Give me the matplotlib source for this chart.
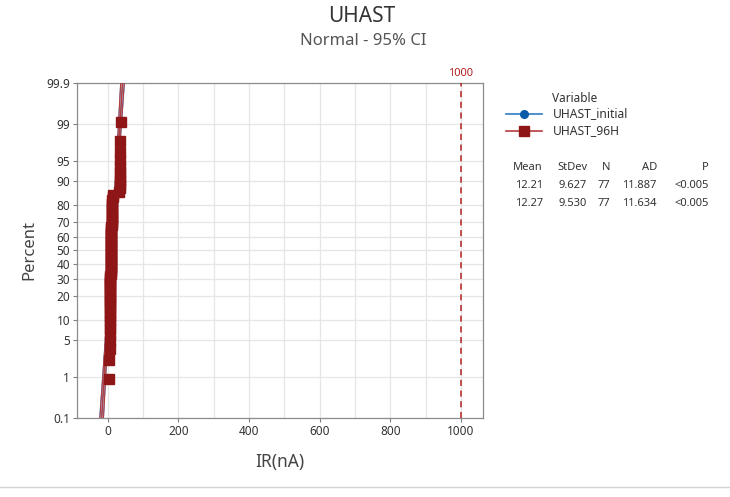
import numpy as np
import matplotlib
matplotlib.use('Agg')
import matplotlib.pyplot as plt
from matplotlib.lines import Line2D
from matplotlib.transforms import blended_transform_factory
from statistics import NormalDist

plt.rcParams['font.family'] = ['Noto Sans', 'DejaVu Sans']

# %%
# 1. DATA
variables = ['UHAST_initial', 'UHAST_96H']

uhast_initial = [
    3.5, 4.0,
    4.9, 5.0, 5.1, 5.1, 5.2, 5.3, 5.3, 5.4, 5.4, 5.5, 5.5, 5.6, 5.6, 5.7, 5.7, 5.8, 5.8, 5.9, 5.9, 6.0, 6.1, 6.2, 6.3,
    8.9, 9.0, 9.0, 9.1, 9.1, 9.2, 9.2, 9.3, 9.3, 9.4, 9.4, 9.5, 9.5, 9.6, 9.6, 9.7, 9.7, 9.8, 9.8, 9.9,
    9.9, 10.0, 10.1, 10.2, 10.3, 10.4, 10.5, 10.6, 10.7, 10.8, 10.9, 11.0, 11.1, 11.3,
    12.3, 12.6, 12.9, 13.1, 13.3, 13.5, 13.7,
    32.8, 33.3, 33.7, 34.0, 34.3, 34.6, 34.9, 35.2, 35.5, 35.8,
    37.0,
]
uhast_96h = [
    3.8, 4.2,
    5.0, 5.1, 5.2, 5.2, 5.3, 5.4, 5.4, 5.5, 5.5, 5.5, 5.6, 5.6, 5.7, 5.7, 5.8, 5.8, 5.9, 5.9, 6.0, 6.0, 6.1, 6.2, 6.3,
    9.0, 9.1, 9.1, 9.2, 9.2, 9.3, 9.3, 9.4, 9.4, 9.5, 9.5, 9.6, 9.6, 9.7, 9.7, 9.8, 9.8, 9.9, 9.9, 10.0,
    10.0, 10.1, 10.2, 10.3, 10.4, 10.5, 10.6, 10.7, 10.8, 10.9, 11.0, 11.1, 11.2, 11.4,
    12.5, 12.8, 13.0, 13.2, 13.4, 13.6, 13.8,
    33.0, 33.5, 33.8, 34.0, 34.2, 34.5, 34.8, 35.0, 35.2, 35.5,
    36.5,
]

# summary table printed by Minitab
means = [12.21, 12.27]
stdevs = [9.627, 9.530]
counts = [77, 77]
ad_values = [11.887, 11.634]
p_values = ['<0.005', '<0.005']

percent_ticks = [0.1, 1, 5, 10, 20, 30, 40, 50, 60, 70, 80, 90, 95, 99, 99.9]
percent_labels = ['0.1', '1', '5', '10', '20', '30', '40', '50', '60', '70', '80', '90', '95', '99', '99.9']
x_ticks = [0, 200, 400, 600, 800, 1000]
ref_value = 1000

line_colors = ['#2f7ec6', '#b83c3c']
marker_colors = ['#0b5aa8', '#8e1616']
markers = ['o', 's']
marker_sizes = [6, 7.5]

# %%
# 2. NORMAL PROBABILITY SCALE
nd = NormalDist()

def zq(p):
    return nd.inv_cdf(p)

fig = plt.figure(figsize=(7.30, 4.97), dpi=100)
ax = fig.add_axes([0.1055, 0.159, 0.556, 0.674])

z_lo, z_hi = zq(0.001), zq(0.999)
z_grid = np.linspace(z_lo, z_hi, 200)

# fitted lines + 95% CI
for k, data in enumerate([uhast_initial, uhast_96h]):
    n = counts[k]
    fit = means[k] + stdevs[k] * z_grid
    se = stdevs[k] * np.sqrt(1.0 / n + z_grid ** 2 / (2.0 * n))
    ax.plot(fit, z_grid, color=line_colors[k], lw=1.0, zorder=3)
    ax.plot(fit - 1.96 * se, z_grid, color=line_colors[k], lw=0.8, zorder=3)
    ax.plot(fit + 1.96 * se, z_grid, color=line_colors[k], lw=0.8, zorder=3)

# data points (median ranks)
for k, data in enumerate([uhast_initial, uhast_96h]):
    vals = np.sort(np.array(data))
    n = len(vals)
    pos = (np.arange(1, n + 1) - 0.3) / (n + 0.4)
    zs = [zq(p) for p in pos]
    ax.plot(vals, zs, ls='none', marker=markers[k], ms=marker_sizes[k],
            color=marker_colors[k], mec=marker_colors[k], zorder=4 + k)

# reference line at 1000
ax.axvline(ref_value, color='#b22222', ls=(0, (4, 3)), lw=1.1, zorder=3)
trans = blended_transform_factory(ax.transData, ax.transAxes)
ax.text(ref_value, 1.012, '1000', transform=trans, ha='center', va='bottom',
        fontsize=8, color='#b22222')

# %%
# 3. AXES STYLE
ax.set_xlim(-87, 1062)
ax.set_ylim(z_lo, z_hi)
ax.set_xticks(x_ticks)
ax.set_xticks([100, 300, 500, 700, 900], minor=True)
ax.set_yticks([zq(p / 100) for p in percent_ticks])
ax.set_yticklabels(percent_labels)

ax.grid(True, which='both', color='#e6e6e6', lw=0.9, zorder=0)
ax.set_axisbelow(True)
ax.tick_params(axis='both', which='major', length=3, width=0.8, color='#808080',
               labelsize=8.5, labelcolor='#333333', pad=2)
ax.tick_params(axis='x', which='minor', length=0)
for sp in ax.spines.values():
    sp.set_color('#8c8c8c')
    sp.set_linewidth(0.9)

ax.set_xlabel('IR(nA)', fontsize=12.5, color='#444444', labelpad=11)
ax.set_ylabel('Percent', fontsize=12, color='#444444', labelpad=6)

# titles
fig.text(0.496, 0.966, 'UHAST', ha='center', va='center', fontsize=15, color='#333333')
fig.text(0.498, 0.918, 'Normal - 95% CI', ha='center', va='center', fontsize=12, color='#555555')

# %%
# 4. LEGEND AND SUMMARY TABLE
fig.text(552 / 730, 1 - 98 / 497, 'Variable', ha='left', va='center', fontsize=8.5, color='#333333')
for k, name in enumerate(variables):
    yy = 1 - (114 + 17 * k) / 497
    fig.add_artist(Line2D([506 / 730, 542 / 730], [yy, yy], color=line_colors[k], lw=1.2))
    fig.add_artist(Line2D([524 / 730], [yy], marker=markers[k], ms=marker_sizes[k] - 0.5,
                          color=marker_colors[k], ls='none'))
    fig.text(553 / 730, yy, name, ha='left', va='center', fontsize=8.7, color='#333333')

col_x = [543, 587, 610, 657, 709]
headers = ['Mean', 'StDev', 'N', 'AD', 'P']
for cx, h in zip(col_x, headers):
    fig.text(cx / 730, 1 - 168 / 497, h, ha='right', va='center', fontsize=8, color='#333333')
for k in range(len(variables)):
    yy = 1 - (185 + 18 * k) / 497
    row = [f'{means[k]:.2f}', f'{stdevs[k]:.3f}', str(counts[k]), f'{ad_values[k]:.3f}', p_values[k]]
    for cx, t in zip(col_x, row):
        fig.text(cx / 730, yy, t, ha='right', va='center', fontsize=8, color='#333333')

# thin frame line at the bottom
fig.add_artist(Line2D([0, 1], [1 - 487 / 497] * 2, color='#d4d4d4', lw=1))

fig.savefig('out.png', dpi=100)
